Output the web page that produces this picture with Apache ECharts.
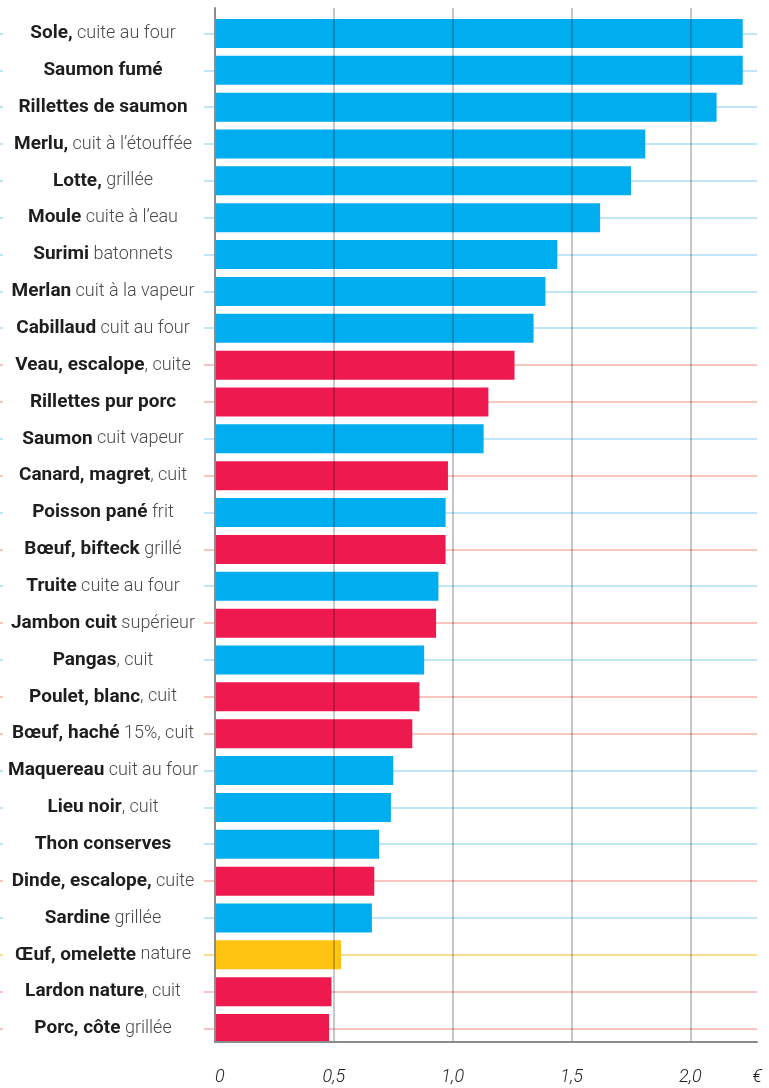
<!DOCTYPE html>
<html>
<head>
<meta charset="utf-8">
<script src="https://cdn.jsdelivr.net/npm/echarts@6/dist/echarts.min.js"></script>
<style>
  html, body { margin: 0; padding: 0; background: #fff; }
  #chart { width: 769px; height: 1088px; }
</style>
</head>
<body>
<div id="chart"></div>
<script>
// label = bold part + light part
var boldParts = [
  "Sole,", "Saumon fumé", "Rillettes de saumon", "Merlu,", "Lotte,", "Moule",
  "Surimi", "Merlan", "Cabillaud", "Veau, escalope", "Rillettes pur porc", "Saumon",
  "Canard, magret", "Poisson pané", "Bœuf, bifteck", "Truite", "Jambon cuit", "Pangas",
  "Poulet, blanc", "Bœuf, haché", "Maquereau", "Lieu noir", "Thon conserves",
  "Dinde, escalope,", "Sardine", "Œuf, omelette", "Lardon nature", "Porc, côte"
];
var lightParts = [
  " cuite au four", "", "", " cuit à l’étouffée", " grillée", " cuite à l’eau",
  " batonnets", " cuit à la vapeur", " cuit au four", ", cuite", "", " cuit vapeur",
  ", cuit", " frit", " grillé", " cuite au four", " supérieur", ", cuit",
  ", cuit", " 15%, cuit", " cuit au four", ", cuit", "",
  " cuite", " grillée", " nature", ", cuit", " grillée"
];
// f = poisson, m = viande, e = oeuf
var kinds = [
  "f", "f", "f", "f", "f", "f", "f", "f", "f", "m", "m", "f", "m", "f",
  "m", "f", "m", "f", "m", "m", "f", "f", "f", "m", "f", "e", "m", "m"
];
var prices = [
  2.22, 2.22, 2.11, 1.81, 1.75, 1.62, 1.44, 1.39, 1.34, 1.26, 1.15, 1.13, 0.98, 0.97,
  0.97, 0.94, 0.93, 0.88, 0.86, 0.83, 0.75, 0.74, 0.69, 0.67, 0.66, 0.53, 0.49, 0.48
];
var xTicks = [0, 0.5, 1.0, 1.5, 2.0];
var xMax = 2.28;

var barColors = { f: "#00adef", m: "#ee1a4f", e: "#ffc312" };
var rowColors = { f: "#bfe5f6", m: "#f8c6be", e: "#fcdd92" };

var names = boldParts.map(function (b, i) { return b + lightParts[i]; });
var rowLineColors = kinds.map(function (k) { return rowColors[k]; });

var myChart = echarts.init(document.getElementById("chart"));

myChart.setOption({
  animation: false,
  grid: [
    { left: 215, right: 12, top: 15, bottom: 41 },          // bars
    { left: 215, right: 12, top: 8, bottom: 46 },           // axes + grid lines
    { left: 204, right: 12, top: 33.4, bottom: 59.5 },      // row lines
    { left: 0, width: 3, top: 33.4, bottom: 59.5 }          // row stubs on the left
  ],
  xAxis: [
    { gridIndex: 0, type: "value", min: 0, max: xMax, show: false },
    {
      gridIndex: 1, type: "value", min: 0, max: xMax, interval: 0.5, z: 3,
      axisLine: { show: true, lineStyle: { color: "#8c8c8c", width: 2 } },
      axisTick: { show: false },
      splitLine: {
        show: true, showMaxLine: false, showMinLine: false,
        lineStyle: { color: "rgba(0,0,0,0.22)", width: 2 }
      },
      axisLabel: {
        margin: 26,
        fontFamily: "Roboto",
        fontStyle: "italic",
        fontWeight: 300,
        fontSize: 18,
        color: "#222",
        alignMinLabel: "left",
        showMaxLabel: true,
        formatter: function (v) {
          if (v > 2.2) return "€";
          if (xTicks.indexOf(v) < 0) return "";
          return v === 0 ? "0" : v.toFixed(1).replace(".", ",");
        }
      }
    },
    { gridIndex: 2, type: "value", min: 0, max: 1, show: false },
    { gridIndex: 3, type: "value", min: 0, max: 1, show: false }
  ],
  yAxis: [
    {
      gridIndex: 0, type: "category", data: names, inverse: true,
      axisLine: { show: false },
      axisTick: { show: false },
      axisLabel: {
        margin: 112,
        align: "center",
        interval: 0,
        formatter: function (v, i) {
          var s = "{b|" + boldParts[i] + "}";
          if (lightParts[i]) s += "{l|" + lightParts[i] + "}";
          return s;
        },
        rich: {
          b: { fontFamily: "Roboto", fontWeight: "bold", fontSize: 19, color: "#1e1e1e" },
          l: { fontFamily: "Roboto", fontWeight: 300, fontSize: 18, color: "#4a4a4a" }
        }
      }
    },
    {
      gridIndex: 1, type: "value", min: 0, max: 1, z: 3,
      axisLine: { show: true, onZero: false, lineStyle: { color: "#8c8c8c", width: 2 } },
      axisTick: { show: false },
      axisLabel: { show: false },
      splitLine: { show: false }
    },
    {
      gridIndex: 2, type: "category", data: names, inverse: true, boundaryGap: false,
      axisLine: { show: false }, axisTick: { show: false }, axisLabel: { show: false },
      splitLine: { show: true, lineStyle: { color: rowLineColors, width: 2 } }
    },
    {
      gridIndex: 3, type: "category", data: names, inverse: true, boundaryGap: false,
      axisLine: { show: false }, axisTick: { show: false }, axisLabel: { show: false },
      splitLine: { show: true, lineStyle: { color: rowLineColors, width: 2 } }
    }
  ],
  series: [
    {
      type: "bar",
      xAxisIndex: 0,
      yAxisIndex: 0,
      barWidth: 29,
      data: prices.map(function (p, i) {
        return { value: p, itemStyle: { color: barColors[kinds[i]] } };
      })
    }
  ]
});
</script>
</body>
</html>
